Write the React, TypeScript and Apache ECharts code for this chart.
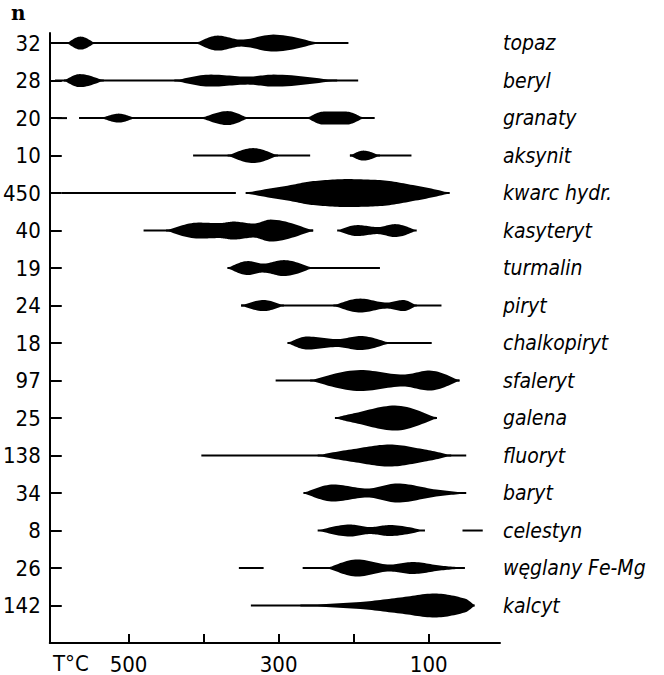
import React, { useEffect, useRef } from "react";
import * as echarts from "echarts";

// n (number of occurrences) per row, top to bottom
const counts = ["32", "28", "20", "10", "450", "40", "19", "24", "18", "97", "25", "138", "34", "8", "26", "142"];
// mineral names per row
const minerals = [
  "topaz", "beryl", "granaty", "aksynit", "kwarc hydr.", "kasyteryt", "turmalin", "piryt",
  "chalkopiryt", "sfaleryt", "galena", "fluoryt", "baryt", "celestyn", "węglany Fe-Mg", "kalcyt",
];
// temperature ticks (°C)
const tempTicks = [100, 200, 300, 400, 500];
const tempLabels = [100, 300, 500];

// thin ranges: [row, T from, T to]
const ranges: [number, number, number][] = [
  [0, 595, 207],
  [1, 598, 194],
  [2, 595, 582], [2, 566, 172],
  [3, 414, 258], [3, 205, 123],
  [4, 589, 357],
  [5, 480, 254],
  [6, 368, 165],
  [7, 350, 83],
  [8, 288, 96],
  [9, 304, 59],
  [11, 403, 50],
  [13, 55, 28],
  [14, 353, 320], [14, 268, 52],
  [15, 337, 39],
];

// frequency lenses: [row, [[T, half-thickness], ...]] (half-thickness in 1/37.5 of row step)
const lenses: [number, [number, number][]][] = [
  [0, [[582, 0], [564, 6.5], [545, 0]]],
  [0, [[410, 0], [381, 7.5], [350, 3.5], [307, 8.5], [247, 0]]],
  [1, [[586, 0], [565, 6.5], [533, 0]]],
  [1, [[439, 0], [390, 6], [341, 4], [307, 6], [222, 0]]],
  [2, [[536, 0], [513, 4.5], [492, 0]]],
  [2, [[403, 0], [368, 7], [341, 0]]],
  [2, [[262, 0], [240, 6.5], [210, 6.5], [187, 0]]],
  [3, [[368, 0], [334, 7.5], [301, 0]]],
  [3, [[205, 0], [187, 5], [165, 0]]],
  [4, [[344, 0], [284, 8], [254, 12], [209, 14], [165, 13], [121, 8], [72, 0]]],
  [5, [[450, 0], [407, 8], [379, 7.5], [360, 9], [333, 7], [311, 11], [254, 0]]],
  [5, [[222, 0], [195, 5.5], [168, 3.5], [145, 6.5], [116, 0]]],
  [6, [[368, 0], [341, 7], [321, 4.5], [293, 8], [255, 0]]],
  [7, [[350, 0], [320, 5.5], [293, 0]]],
  [7, [[227, 0], [191, 7], [156, 3], [134, 5.5], [116, 0]]],
  [8, [[288, 0], [262, 6.5], [222, 4], [191, 7], [152, 0]]],
  [9, [[258, 0], [191, 10.5], [134, 6], [99, 10], [59, 0]]],
  [10, [[225, 0], [198, 5], [145, 12.5], [89, 0]]],
  [11, [[248, 0], [200, 6.5], [152, 11], [105, 6], [70, 0]]],
  [12, [[267, 0], [227, 8.5], [182, 4.5], [142, 9.5], [90, 3.5], [50, 0]]],
  [13, [[248, 0], [205, 6], [178, 3.5], [152, 5.5], [105, 0]]],
  [14, [[235, 0], [195, 8.5], [152, 3.5], [121, 6], [85, 2.5], [52, 0]]],
  [15, [[271, 0], [191, 3.5], [138, 8], [92, 12], [52, 7], [39, 0]]],
];

const rowIdx = counts.map((_, i) => i);
const REF_ROW = 37.5;
const FONT = "'DejaVu Sans Condensed', 'DejaVu Sans', sans-serif";

function outline(pts: [number, number][], steps = 14): [number, number][] {
  const p = pts.slice().sort((a, b) => a[0] - b[0]);
  const n = p.length;
  const d: number[] = [];
  for (let k = 0; k < n - 1; k++) {
    const dx = p[k + 1][0] - p[k][0] || 1e-6;
    d.push((p[k + 1][1] - p[k][1]) / dx);
  }
  const m: number[] = new Array(n).fill(0);
  m[0] = d[0] * 1.3;
  m[n - 1] = d[n - 2] * 1.3;
  for (let k = 1; k < n - 1; k++) {
    if (d[k - 1] * d[k] <= 0) m[k] = 0;
    else m[k] = (2 * d[k - 1] * d[k]) / (d[k - 1] + d[k]);
  }
  const out: [number, number][] = [];
  for (let k = 0; k < n - 1; k++) {
    const [x0, y0] = p[k];
    const [x1, y1] = p[k + 1];
    const h = x1 - x0;
    for (let s = 0; s < steps; s++) {
      const t = s / steps;
      const t2 = t * t, t3 = t2 * t;
      const y = (2 * t3 - 3 * t2 + 1) * y0 + (t3 - 2 * t2 + t) * h * m[k] + (-2 * t3 + 3 * t2) * y1 + (t3 - t2) * h * m[k + 1];
      out.push([x0 + h * t, Math.max(0, y)]);
    }
  }
  out.push([p[n - 1][0], p[n - 1][1]]);
  return out;
}

export default function App() {
  const ref = useRef<HTMLDivElement>(null);
  useEffect(() => {
    document.body.style.margin = "0";
    if (!ref.current) return;
    const chart = echarts.init(ref.current, null, { renderer: "svg" });
    const option: any = {
      animation: false,
      backgroundColor: "#fff",
      grid: { left: 48, right: 164, top: 33, bottom: 32 },
      xAxis: {
        type: "value",
        min: 5,
        max: 605,
        inverse: true,
        position: "bottom",
        splitLine: { show: false },
        axisLine: { show: true, onZero: false, lineStyle: { color: "#000", width: 2 } },
        axisTick: { show: true, inside: true, length: 9, customValues: tempTicks, lineStyle: { color: "#000", width: 2 } },
        axisLabel: { customValues: tempLabels, color: "#000", fontSize: 22, fontFamily: FONT, margin: 10 },
      },
      yAxis: [
        {
          type: "value",
          inverse: true,
          min: -0.27,
          max: 16,
          position: "left",
          splitLine: { show: false },
          axisLine: { show: true, onZero: false, lineStyle: { color: "#000", width: 2 } },
          axisTick: { show: true, inside: true, length: 12, customValues: rowIdx, lineStyle: { color: "#000", width: 2 } },
          axisLabel: {
            customValues: rowIdx,
            formatter: (v: number) => counts[Math.round(v)] ?? "",
            color: "#000",
            fontSize: 22,
            fontFamily: FONT,
            margin: 9,
          },
        },
        {
          type: "value",
          inverse: true,
          min: -0.27,
          max: 16,
          position: "right",
          splitLine: { show: false },
          axisLine: { show: false, onZero: false },
          axisTick: { show: false },
          axisLabel: {
            customValues: rowIdx,
            formatter: (v: number) => minerals[Math.round(v)] ?? "",
            color: "#000",
            fontSize: 21,
            fontStyle: "italic",
            fontFamily: FONT,
            margin: 3,
            align: "left",
          },
        },
      ],
      graphic: [
        { type: "text", left: 11, top: 3, style: { text: "n", font: "bold 20px 'DejaVu Serif', serif", fill: "#000" } },
        { type: "text", left: 53, top: 652, style: { text: "T°C", font: `22px ${FONT}`, fill: "#000" } },
      ],
      series: [
        {
          type: "custom",
          coordinateSystem: "cartesian2d",
          xAxisIndex: 0,
          yAxisIndex: 0,
          encode: { x: [1, 2], y: 0 },
          data: ranges,
          renderItem: (params: any, api: any) => {
            const row = api.value(0);
            const a = api.coord([api.value(1), row]);
            const b = api.coord([api.value(2), row]);
            return {
              type: "line",
              shape: { x1: a[0], y1: a[1], x2: b[0], y2: b[1] },
              style: { stroke: "#000", lineWidth: 2 },
            };
          },
        },
        {
          type: "custom",
          coordinateSystem: "cartesian2d",
          xAxisIndex: 0,
          yAxisIndex: 0,
          encode: { x: [1, 2], y: 0 },
          data: lenses.map((l, i) => [l[0], l[1][0][0], l[1][l[1].length - 1][0], i]),
          renderItem: (params: any, api: any) => {
            const row = api.value(0);
            const knots = lenses[api.value(3)][1];
            const rowPx = Math.abs(api.size([0, 1])[1]);
            const k = rowPx / REF_ROW;
            const yc = api.coord([knots[0][0], row])[1];
            const pix: [number, number][] = knots.map((q) => [api.coord([q[0], row])[0], q[1] * k]);
            const o = outline(pix);
            const pts: number[][] = [];
            o.forEach((q) => pts.push([q[0], yc - Math.max(q[1], 1)]));
            for (let i = o.length - 1; i >= 0; i--) pts.push([o[i][0], yc + Math.max(o[i][1], 1)]);
            return { type: "polygon", shape: { points: pts }, style: { fill: "#000" } };
          },
        },
      ],
    };
    chart.setOption(option);
    return () => chart.dispose();
  }, []);
  return <div ref={ref} style={{ width: 664, height: 675 }} />;
}
